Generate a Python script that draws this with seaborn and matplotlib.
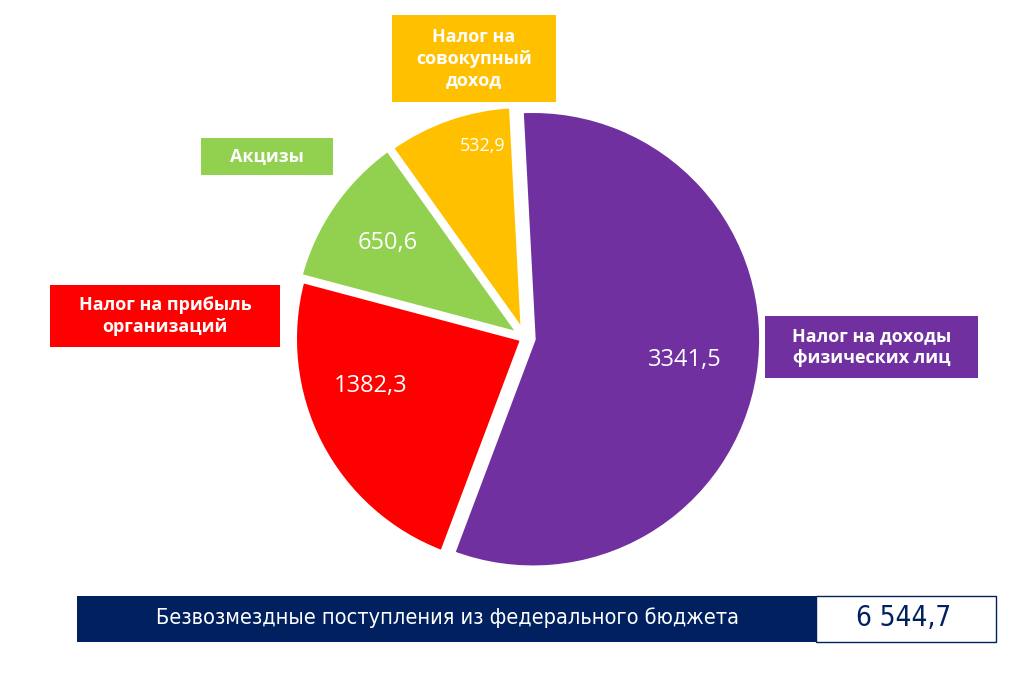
import numpy as np
import matplotlib
matplotlib.use("Agg")
import matplotlib.pyplot as plt
import seaborn as sns
from matplotlib.patches import Rectangle

# Data
categories = ["Налог на доходы\nфизических лиц", "Налог на прибыль\nорганизаций", "Акцизы", "Налог на\nсовокупный\nдоход"]
values = [3341.5, 1382.3, 650.6, 532.9]
colors = ["#7030A0", "#FF0000", "#92D050", "#FFC000"]
total_label = "Безвозмездные поступления из федерального бюджета"
total_value = "6 544,7"

sns.set_theme(style="white")
plt.rcParams['font.family'] = ['Open Sans', 'DejaVu Sans']

fig = plt.figure(figsize=(10.22, 6.76), dpi=100)
ax = fig.add_axes([0, 0, 1, 1])
H = 676

wedges, _ = ax.pie(values, colors=colors, startangle=93, counterclock=False,
                   center=(525, H - 338), radius=229, explode=[8, 2, 5, 4],
                   wedgeprops=dict(edgecolor="white", linewidth=4))
ax.set_xlim(0, 1022)
ax.set_ylim(0, H)
ax.set_aspect("equal")
ax.axis("off")

# value labels inside wedges
dist = [0.67, 0.7, 0.71, 0.84]
shift = [1, -10, 0, -7]
sizes = [17, 17, 17, 13]
for w, v, d, s, fs in zip(wedges, values, dist, shift, sizes):
    ang = np.deg2rad((w.theta1 + w.theta2) / 2 + s)
    x = w.center[0] + d * w.r * np.cos(ang)
    y = w.center[1] + d * w.r * np.sin(ang)
    ax.text(x, y, f"{v:.1f}".replace(".", ","), color="white", fontsize=fs,
            ha="center", va="center")

# category boxes (left, top, right, bottom in pixels)
boxes = [(765, 316, 978, 378), (50, 285, 280, 347), (201, 138, 333, 175), (392, 15, 556, 102)]
for (l, t, r, b), lab, c in zip(boxes, categories, colors):
    ax.add_patch(Rectangle((l, H - b), r - l, b - t, facecolor=c, edgecolor="none"))
    ax.text((l + r) / 2, H - (t + b) / 2, lab, color="white", fontsize=13,
            fontweight="bold", ha="center", va="center", linespacing=1.25)

# bottom banner
ax.add_patch(Rectangle((77, H - 642), 739, 46, facecolor="#002060", edgecolor="none"))
ax.add_patch(Rectangle((816, H - 642), 180, 46, facecolor="white", edgecolor="#002060", linewidth=1))
ax.text(447, H - 618, total_label, color="white", fontsize=15.6, ha="center", va="center",
        family=['DejaVu Sans'], fontstretch="condensed")
ax.text(904, H - 618, total_value, color="#002060", fontsize=20, ha="center", va="center",
        family=['DejaVu Sans'], fontstretch="condensed")

fig.savefig("out.png", dpi=100)
